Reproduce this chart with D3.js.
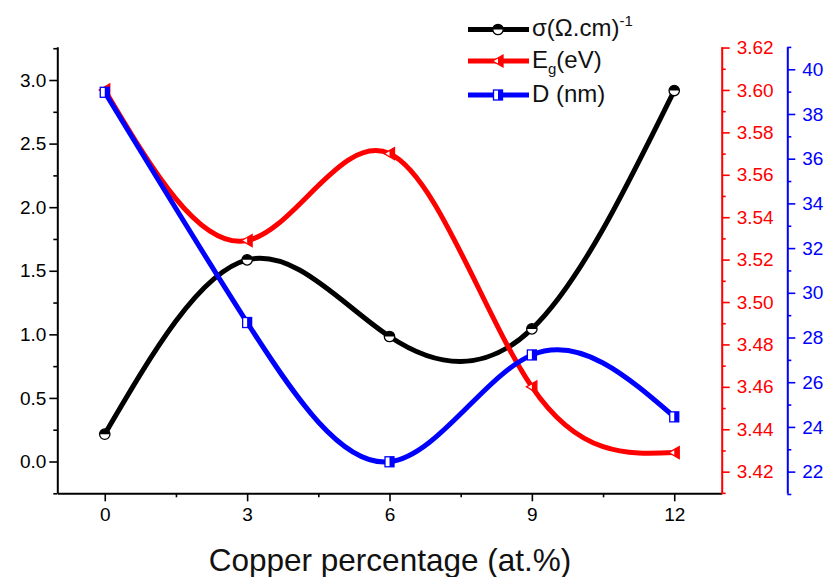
<!DOCTYPE html>
<html>
<head>
<meta charset="utf-8">
<script src="https://cdn.jsdelivr.net/npm/d3@7"></script>
<style>
  html, body { margin: 0; padding: 0; background: #fff; }
  svg { display: block; font-family: Arial, "Liberation Sans", sans-serif; }
</style>
</head>
<body>
<svg id="chart" width="826" height="577"></svg>
<script>
// Copper doping series
const copper = [0, 3, 6, 9, 12];
const conductivity = [0.215, 1.586, 0.983, 1.043, 2.917];   // σ (Ω.cm)^-1
const bandGap = [3.600, 3.529, 3.570, 3.460, 3.429];         // Eg (eV)
const crystallite = [38.97, 28.67, 22.44, 27.22, 24.45];     // D (nm)

const xTicks = [0, 3, 6, 9, 12];
const xMinor = [1.5, 4.5, 7.5, 10.5];
const leftTicks = [0, 0.5, 1.0, 1.5, 2.0, 2.5, 3.0];
const leftMinor = [-0.25, 0.25, 0.75, 1.25, 1.75, 2.25, 2.75, 3.25];
const redTicks = [3.42, 3.44, 3.46, 3.48, 3.50, 3.52, 3.54, 3.56, 3.58, 3.60, 3.62];
const redMinor = [3.41, 3.43, 3.45, 3.47, 3.49, 3.51, 3.53, 3.55, 3.57, 3.59, 3.61];
const blueTicks = [22, 24, 26, 28, 30, 32, 34, 36, 38, 40];
const blueMinor = [21, 23, 25, 27, 29, 31, 33, 35, 37, 39, 41];

const RED = "#ff0000", BLUE = "#0000ff", BLACK = "#000000";

const svg = d3.select("#chart");

const plotLeft = 57.3, plotRight = 721.7, plotTop = 46.7, plotBottom = 493.3;
const blueAxisX = 787.3;

const x = d3.scaleLinear().domain([-1, 13]).range([plotLeft, plotRight]);
const yL = d3.scaleLinear().domain([-0.25, 3.262]).range([plotBottom, plotTop]);
const yR = d3.scaleLinear().domain([3.4098, 3.6204]).range([plotBottom, plotTop]);
const yB = d3.scaleLinear().domain([21.03, 41.01]).range([plotBottom, plotTop]);

function styleAxis(g, color, fontSize) {
  g.select(".domain").attr("stroke", color).attr("stroke-width", 2);
  g.selectAll(".tick line").attr("stroke", color).attr("stroke-width", 1.6);
  g.selectAll(".tick text").attr("fill", color)
    .style("font-size", fontSize + "px")
    .style("font-family", "Arial, 'Liberation Sans', sans-serif");
}

function drawAxis(axisFn, scale, ticks, minor, fmt, transform, color, pad) {
  const g = svg.append("g").attr("transform", transform);
  g.call(axisFn(scale).tickValues(minor).tickSize(4).tickFormat(""))
    .call(s => s.select(".domain").remove());
  g.selectAll(".tick line").attr("stroke", color).attr("stroke-width", 1.6);
  const gm = svg.append("g").attr("transform", transform);
  gm.call(axisFn(scale).tickValues(ticks).tickSize(8).tickSizeOuter(0).tickPadding(pad).tickFormat(fmt));
  styleAxis(gm, color, 19);
  return gm;
}

// Axes
drawAxis(d3.axisBottom, x, xTicks, xMinor, d3.format("d"), `translate(0,${plotBottom})`, BLACK, 6);
drawAxis(d3.axisLeft, yL, leftTicks, leftMinor, d3.format(".1f"), `translate(${plotLeft},0)`, BLACK, 3);
drawAxis(d3.axisRight, yR, redTicks, redMinor, d3.format(".2f"), `translate(${plotRight},0)`, RED, 7);
drawAxis(d3.axisRight, yB, blueTicks, blueMinor, d3.format("d"), `translate(${blueAxisX},0)`, BLUE, 7);

// X axis title
svg.append("text")
  .attr("x", 390)
  .attr("y", 571)
  .attr("text-anchor", "middle")
  .style("font-size", "31.5px")
  .attr("fill", "#111")
  .text("Copper percentage (at.%)");

// Half-filled markers
function circleMarker(g, cx, cy, color) {
  const r = 5.2;
  const m = g.append("g").attr("transform", `translate(${cx},${cy})`);
  m.append("circle").attr("r", r).attr("fill", "#fff").attr("stroke", color).attr("stroke-width", 1.3);
  m.append("path").attr("d", `M${-r},0 A${r},${r} 0 0 1 ${r},0 Z`).attr("fill", color);
}
function triangleMarker(g, cx, cy, color) {
  const m = g.append("g").attr("transform", `translate(${cx},${cy})`);
  m.append("path").attr("d", "M-5.5,0 L5,-6 L5,6 Z").attr("fill", "#fff").attr("stroke", color).attr("stroke-width", 1.3);
  m.append("path").attr("d", "M0,-3.1 L5,-6 L5,6 L0,3.1 Z").attr("fill", color);
}
function squareMarker(g, cx, cy, color) {
  const m = g.append("g").attr("transform", `translate(${cx},${cy})`);
  m.append("rect").attr("x", -4.5).attr("y", -5).attr("width", 9).attr("height", 10)
    .attr("fill", "#fff").attr("stroke", color).attr("stroke-width", 1.3);
  m.append("rect").attr("x", 0).attr("y", -5).attr("width", 4.5).attr("height", 10).attr("fill", color);
}

const series = [
  { values: conductivity, y: yL, color: BLACK, marker: circleMarker },
  { values: bandGap, y: yR, color: RED, marker: triangleMarker },
  { values: crystallite, y: yB, color: BLUE, marker: squareMarker }
];

const plot = svg.append("g");
series.forEach(s => {
  const pts = copper.map((c, i) => [c, s.values[i]]);
  const line = d3.line()
    .x(d => x(d[0]))
    .y(d => s.y(d[1]))
    .curve(d3.curveNatural);
  plot.append("path")
    .attr("d", line(pts))
    .attr("fill", "none")
    .attr("stroke", s.color)
    .attr("stroke-width", 5)
    .attr("stroke-linejoin", "round");
  pts.forEach(p => s.marker(plot, x(p[0]), s.y(p[1]), s.color));
});

// Legend
const legend = svg.append("g");
const legendRows = [
  { y: 29.5, color: BLACK, marker: circleMarker },
  { y: 61, color: RED, marker: triangleMarker },
  { y: 95, color: BLUE, marker: squareMarker }
];
legendRows.forEach(r => {
  legend.append("line").attr("x1", 468).attr("x2", 529).attr("y1", r.y).attr("y2", r.y)
    .attr("stroke", r.color).attr("stroke-width", 5);
  r.marker(legend, 498, r.y, r.color);
});

const lt1 = legend.append("text").attr("x", 532).attr("y", 36).style("font-size", "24px").attr("fill", "#111");
lt1.append("tspan").text("σ(Ω.cm)");
lt1.append("tspan").attr("dy", -10).style("font-size", "15px").text("-1");

const lt2 = legend.append("text").attr("x", 532).attr("y", 68).style("font-size", "24px").attr("fill", "#111");
lt2.append("tspan").text("E");
lt2.append("tspan").attr("dy", 6).style("font-size", "15px").text("g");
lt2.append("tspan").attr("dy", -6).text("(eV)");

legend.append("text").attr("x", 532).attr("y", 102).style("font-size", "24px").attr("fill", "#111")
  .text("D (nm)");
</script>
</body>
</html>
